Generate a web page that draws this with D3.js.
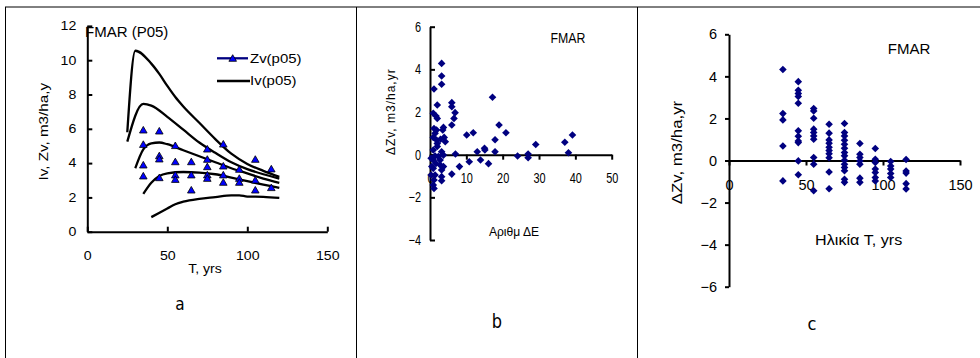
<!DOCTYPE html>
<html>
<head>
<meta charset="utf-8">
<script src="https://cdn.jsdelivr.net/npm/d3@7"></script>
<style>
body { margin: 0; background: #fff; }
svg { display: block; font-family: "Liberation Sans", Arial, sans-serif; }
</style>
</head>
<body>
<svg width="980" height="358"></svg>
<script>
// ---- data ----
// panel a: Iv curves (age, m3/ha/y)
var ivCurve1 = [[25,5.8],[30,10.55],[40,9.8],[45,9.2],[50,8.5],[55,7.85],[60,7.3],[70,6.35],[80,5.4],[90,4.55],[100,3.95],[110,3.55],[120,3.2]];
var ivCurve2 = [[25,5.25],[35,7.45],[40,7.35],[50,6.7],[60,5.95],[70,5.2],[80,4.6],[90,4.05],[100,3.65],[110,3.35],[120,3.1]];
var ivCurve3 = [[30,3.7],[35,4.8],[40,5.15],[45,5.2],[50,5.1],[60,4.75],[70,4.4],[80,4.05],[90,3.7],[100,3.4],[110,3.1],[120,2.85]];
var ivCurve4 = [[35,2.2],[40,2.85],[45,3.25],[50,3.4],[60,3.48],[70,3.45],[80,3.35],[90,3.15],[100,2.95],[110,2.75],[120,2.55]];
var ivCurve5 = [[40,0.85],[50,1.35],[55,1.6],[60,1.75],[70,1.92],[80,2.02],[90,2.12],[95,2.12],[100,2.05],[110,2.03],[120,1.97]];
// panel a: Zv(p05) points
var zvAge = [35,35,35,35, 45,45,45,45, 55,55,55,55, 65,65,65, 75,75,75,75,75, 85,85,85,85, 95,95,95, 105,105,105, 115,115];
var zvVal = [5.93,5.09,3.89,3.25, 5.87,4.43,4.24,3.15, 5.02,4.08,3.31,3.05, 4.08,3.31,2.43, 4.82,4.22,3.79,3.31,3.11, 5.11,3.83,3.31,2.88, 3.64,3.11,2.88, 4.22,3.01,2.43, 3.66,2.57];

// panel b: number of ΔΕ vs ΔZv
var bCount = [3.2,3.2,3.2,1.1,2.0,0.9,1.65,2.0,6.0,6.0,6.9,6.6,6.0,3.7,3.5,1.1,1.8,1.4,0.9,1.8,2.0,2.9,3.9,4.2,2.0,0.9,1.4,2.3,0.9,2.8,3.7,3.2,1.65,0.9,2.8,3.7,3.2,1.4,1.1,0.9,1.1,3.2,3.2,6.0,7.0,8.1,10.1,11.9,10.8,13.0,13.9,15.1,15.0,16.1,17.2,19.0,20.9,17.9,17.9,24.1,27.0,27.0,29.1,37.1,38.1,39.2,0.3,0.3,0.5];
var bDz    = [4.28,3.69,3.3,3.08,2.33,1.94,1.81,1.7,2.44,2.25,1.97,1.7,1.39,1.28,1.16,1.23,1.16,1.0,0.81,0.69,0.53,0.72,0.81,0.61,0.38,0.22,-0.06,-0.09,-0.25,-0.25,-0.02,0.14,-0.41,-0.64,-0.48,-0.56,-0.72,-0.95,-1.19,-1.42,-1.58,-1.03,-1.22,-0.91,0.03,-0.56,0.92,1.03,-0.33,0.14,-0.25,0.22,0.30,-0.42,2.69,1.39,1.03,0.70,0.14,-0.06,0.03,-0.14,0.48,0.58,0.09,0.92,-0.17,-0.95,-0.56];

// panel c: age vs ΔZv
var cAges = [35,45,55,65,75,85,95,105,115];
var dz35 = [4.33,2.23,1.93,0.69,-0.97];
var dz45 = [3.75,3.34,3.18,3.04,2.72,1.41,1.15,0.93,0.85,-0.02,-0.68];
var dz55 = [2.47,2.35,2.01,1.49,1.33,1.17,1.01,0.14,-0.18,-1.44];
var dz65 = [1.72,1.3,0.98,0.82,0.63,0.47,0.32,0.13,-0.55,-1.34];
var dz75 = [1.76,1.33,1.17,0.96,0.77,0.58,0.38,0.22,0.01,-0.18,-0.33,-0.49,-0.89,-1.04];
var dz85 = [0.81,0.3,0.14,-0.02,-0.18,-0.84,-1.04];
var dz95 = [0.57,0.06,-0.09,-0.41,-0.57,-0.81,-0.97];
var dz105 = [-0.05,-0.26,-0.41,-0.62,-0.81];
var dz115 = [0.05,-0.5,-0.6,-1.1,-1.35];
var cValues = [dz35,dz45,dz55,dz65,dz75,dz85,dz95,dz105,dz115];

// ticks
var aTicksX = [0,50,100,150], aTicksY = [0,2,4,6,8,10,12];
var bTicksX = [0,10,20,30,40,50], bTicksY = [-4,-2,0,2,4,6];
var cTicksX = [0,50,100,150], cTicksY = [-6,-4,-2,0,2,4,6];

var svg = d3.select('svg');
var navy = '#000080';
var diamond = 'M0,-3.8L3.8,0L0,3.8L-3.8,0Z';
var tri = 'M0,-3.6L3.8,3L-3.8,3Z';

function stretch(sel, f) {
  sel.each(function () {
    var w = this.getComputedTextLength();
    d3.select(this).attr('textLength', w * f).attr('lengthAdjust', 'spacingAndGlyphs');
  });
}
function styleAxis(g) {
  g.select('.domain').attr('stroke', '#000').attr('stroke-width', 2);
  g.selectAll('.tick line').attr('stroke', '#000').attr('stroke-width', 2);
  g.selectAll('text').attr('fill', '#000').attr('font-family', '"Liberation Sans", Arial, sans-serif');
}

// frame lines
svg.append('line').attr('x1', 5).attr('y1', 7).attr('x2', 980).attr('y2', 7).attr('stroke', '#000');
[5, 356, 637].forEach(function (x) {
  svg.append('line').attr('x1', x + 0.5).attr('y1', 7).attr('x2', x + 0.5).attr('y2', 358).attr('stroke', '#000');
});

// ---- panel a ----
var ax = d3.scaleLinear().domain([0, 150]).range([87.3, 327.3]);
var ay = d3.scaleLinear().domain([0, 12]).range([231.7, 25.9]);
var ga = svg.append('g');

var gax = ga.append('g').attr('transform', 'translate(0,' + ay(0) + ')')
  .call(d3.axisBottom(ax).tickValues(aTicksX).tickSizeInner(-5).tickSizeOuter(0));
styleAxis(gax);
gax.selectAll('text').attr('y', 28).attr('dy', null).attr('font-size', 12);
var gay = ga.append('g').attr('transform', 'translate(' + ax(0) + ',0)')
  .call(d3.axisLeft(ay).tickValues(aTicksY).tickSizeInner(-5).tickSizeOuter(0).tickPadding(11));
styleAxis(gay);
gay.selectAll('text').attr('font-size', 12);
stretch(gax.selectAll('text'), 1.18);
stretch(gay.selectAll('text'), 1.18);

var lineA = d3.line().x(function (d) { return ax(d[0]); }).y(function (d) { return ay(d[1]); }).curve(d3.curveMonotoneX);
[ivCurve1, ivCurve2, ivCurve3, ivCurve4, ivCurve5].forEach(function (c) {
  ga.append('path').attr('d', lineA(c)).attr('fill', 'none').attr('stroke', '#000').attr('stroke-width', 2.3);
});
ga.selectAll('path.zv').data(zvAge).enter().append('path').attr('class', 'zv')
  .attr('d', tri)
  .attr('transform', function (d, i) { return 'translate(' + ax(d) + ',' + ay(zvVal[i]) + ')'; })
  .attr('fill', '#0000ff').attr('stroke', '#000').attr('stroke-width', 0.8);

// legend
ga.append('line').attr('x1', 217).attr('x2', 248).attr('y1', 58.3).attr('y2', 58.3).attr('stroke', navy).attr('stroke-width', 2.3);
ga.append('path').attr('d', tri).attr('transform', 'translate(232.7,58.3)').attr('fill', '#0000ff').attr('stroke', '#000').attr('stroke-width', 0.8);
ga.append('line').attr('x1', 217).attr('x2', 250).attr('y1', 81).attr('y2', 81).attr('stroke', '#000').attr('stroke-width', 2.3);
var legT = ga.selectAll('text.leg').data(['Zv(p05)', 'Iv(p05)']).enter().append('text').attr('class', 'leg')
  .attr('x', 250).attr('y', function (d, i) { return i ? 85.3 : 62.6; })
  .attr('font-size', 13).text(function (d) { return d; });
stretch(legT, 1.15);

ga.append('text').attr('x', 85).attr('y', 37.3).attr('font-size', 15).text('FMAR (P05)');
var aYl = ga.append('text').attr('transform', 'translate(47.5,131.7) rotate(-90)').attr('text-anchor', 'middle')
  .attr('font-size', 13).text('Iv, Zv, m3/ha,y');
stretch(aYl, 1.17);
var aXl = ga.append('text').attr('x', 205).attr('y', 272.5).attr('text-anchor', 'middle').attr('font-size', 13).text('T, yrs');
stretch(aXl, 1.08);
var la = ga.append('text').attr('x', 180).attr('y', 310).attr('text-anchor', 'middle')
  .attr('font-family', '"DejaVu Sans", sans-serif').attr('font-size', 18).text('a');
stretch(la, 0.85);

// ---- panel b ----
var bx = d3.scaleLinear().domain([0, 50]).range([430, 611.7]);
var by = d3.scaleLinear().domain([-4, 6]).range([240, 26.7]);
var gb = svg.append('g');

var gbx = gb.append('g').attr('transform', 'translate(0,' + by(0) + ')')
  .call(d3.axisBottom(bx).tickValues(bTicksX).tickSizeInner(5).tickSizeOuter(0));
styleAxis(gbx);
gbx.selectAll('text').attr('y', 28.3).attr('dy', null).attr('font-size', 14);
var gby = gb.append('g').attr('transform', 'translate(' + bx(0) + ',0)')
  .call(d3.axisLeft(by).tickValues(bTicksY).tickSizeInner(-5).tickSizeOuter(0).tickPadding(9));
styleAxis(gby);
gby.selectAll('text').attr('font-size', 14);
stretch(gbx.selectAll('text'), 0.78);
stretch(gby.selectAll('text'), 0.78);

gb.selectAll('path.pb').data(bCount).enter().append('path').attr('class', 'pb')
  .attr('d', diamond)
  .attr('transform', function (d, i) { return 'translate(' + bx(d) + ',' + by(bDz[i]) + ')'; })
  .attr('fill', navy);

var bF = gb.append('text').attr('x', 568).attr('y', 43.3).attr('text-anchor', 'middle').attr('font-size', 14).text('FMAR');
stretch(bF, 0.88);
var bXl = gb.append('text').attr('x', 514).attr('y', 236).attr('text-anchor', 'middle').attr('font-size', 13).text('Αριθμ ΔΕ');
stretch(bXl, 0.93);
gb.append('text').attr('transform', 'translate(395,111.7) rotate(-90)').attr('text-anchor', 'middle')
  .attr('font-size', 12).attr('letter-spacing', 1).text('ΔZv, m3/ha,yr');
var lb = gb.append('text').attr('x', 497).attr('y', 328).attr('text-anchor', 'middle')
  .attr('font-family', '"DejaVu Sans", sans-serif').attr('font-size', 19).text('b');
stretch(lb, 0.85);

// ---- panel c ----
var cx = d3.scaleLinear().domain([0, 150]).range([729, 960]);
var cy = d3.scaleLinear().domain([-6, 6]).range([286.7, 34.3]);
var gc = svg.append('g');

var gcx = gc.append('g').attr('transform', 'translate(0,' + cy(0) + ')')
  .call(d3.axisBottom(cx).tickValues(cTicksX).tickSizeInner(5).tickSizeOuter(0));
styleAxis(gcx);
gcx.selectAll('text').attr('y', 29.4).attr('dy', null).attr('font-size', 14.5);
var gcy = gc.append('g').attr('transform', 'translate(' + cx(0) + ',0)')
  .call(d3.axisLeft(cy).tickValues(cTicksY).tickSizeInner(4).tickSizeOuter(0).tickPadding(8));
styleAxis(gcy);
gcy.selectAll('text').attr('font-size', 14.5);

cAges.forEach(function (age, k) {
  gc.selectAll('path.pc' + k).data(cValues[k]).enter().append('path')
    .attr('d', diamond)
    .attr('transform', function (d) { return 'translate(' + cx(age) + ',' + cy(d) + ')'; })
    .attr('fill', navy);
});

gc.append('text').attr('x', 909).attr('y', 54.3).attr('text-anchor', 'middle').attr('font-size', 15).text('FMAR');
var cXl = gc.append('text').attr('x', 858.7).attr('y', 245).attr('text-anchor', 'middle').attr('font-size', 14).text('Ηλικία T, yrs');
stretch(cXl, 1.15);
var cYl = gc.append('text').attr('transform', 'translate(682,152.5) rotate(-90)').attr('text-anchor', 'middle')
  .attr('font-size', 14).text('ΔZv, m3/ha,yr');
stretch(cYl, 1.2);
var lc = gc.append('text').attr('x', 812).attr('y', 330).attr('text-anchor', 'middle')
  .attr('font-family', '"DejaVu Sans", sans-serif').attr('font-size', 18).text('c');
stretch(lc, 0.9);
</script>
</body>
</html>
